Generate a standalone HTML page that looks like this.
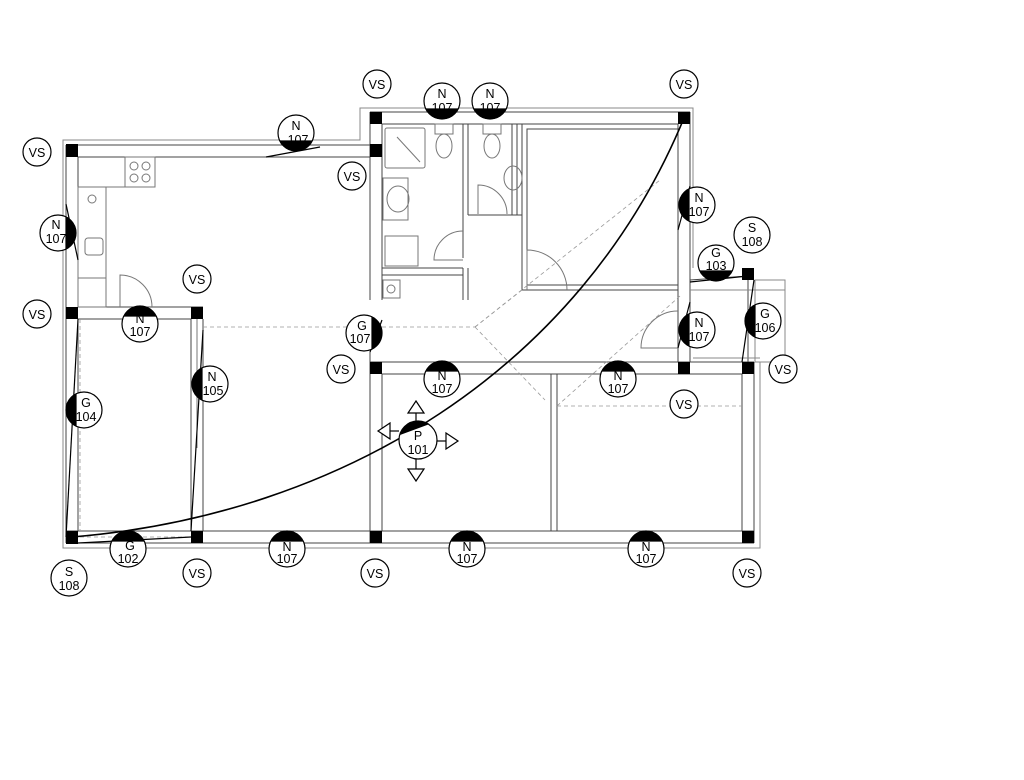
<!DOCTYPE html>
<html><head><meta charset="utf-8"><style>
html,body{margin:0;padding:0;background:#fff;}
svg{display:block;}
text{font-family:"Liberation Sans",sans-serif;font-size:12.5px;fill:#000;text-anchor:middle;}
</style></head><body>
<svg width="1024" height="780" viewBox="0 0 1024 780" xmlns="http://www.w3.org/2000/svg">
<g fill="none" stroke="#444" stroke-width="1">
<polyline points="63,312 63,140 360,140 360,108 693,108 693,268" stroke="#888"/>
<polyline points="63,312 63,548 760,548 760,362" stroke="#888"/>
<line x1="66" y1="543" x2="754" y2="543"/>
<line x1="66" y1="531" x2="754" y2="531"/>
<line x1="66" y1="145" x2="382" y2="145"/>
<line x1="78" y1="157" x2="370" y2="157"/>
<line x1="66" y1="145" x2="66" y2="543"/>
<line x1="78" y1="157" x2="78" y2="307"/>
<line x1="78" y1="319" x2="78" y2="531"/>
<line x1="78" y1="307" x2="203" y2="307"/>
<line x1="78" y1="319" x2="191" y2="319"/>
<line x1="191" y1="319" x2="191" y2="531"/>
<line x1="203" y1="319" x2="203" y2="531"/>
<line x1="370" y1="112" x2="690" y2="112"/>
<line x1="382" y1="124" x2="678" y2="124"/>
<line x1="370" y1="112" x2="370" y2="300"/>
<line x1="382" y1="124" x2="382" y2="300"/>
<line x1="370" y1="352" x2="370" y2="543"/>
<line x1="382" y1="374" x2="382" y2="531"/>
<line x1="678" y1="124" x2="678" y2="362"/>
<line x1="690" y1="112" x2="690" y2="362"/>
<line x1="370" y1="362" x2="754" y2="362"/>
<line x1="382" y1="374" x2="742" y2="374"/>
<line x1="742" y1="374" x2="742" y2="531"/>
<line x1="754" y1="362" x2="754" y2="543"/>
<line x1="551" y1="374" x2="551" y2="531"/>
<line x1="557" y1="374" x2="557" y2="531"/>
<polyline points="690,280 748,276 748,362"/>
<rect x="755" y="280" width="30" height="82" stroke="#888"/>
<line x1="690" y1="290" x2="785" y2="290" stroke="#888"/>
<line x1="693" y1="358" x2="760" y2="358" stroke="#888"/>
<line x1="463" y1="124" x2="463" y2="258"/>
<line x1="468" y1="124" x2="468" y2="215"/>
<line x1="463" y1="268" x2="463" y2="300"/>
<line x1="468" y1="268" x2="468" y2="300"/>
<line x1="468" y1="215" x2="522" y2="215"/>
<line x1="382" y1="268" x2="463" y2="268"/>
<line x1="382" y1="275" x2="463" y2="275"/>
<rect x="522" y="124" width="156" height="166"/>
<rect x="527" y="129" width="151" height="156"/>
<line x1="512" y1="124" x2="512" y2="215"/>
<line x1="517" y1="124" x2="517" y2="215"/>
<g stroke="#777">
<rect x="385" y="128" width="40" height="40" rx="2"/>
<line x1="397" y1="137" x2="420" y2="162"/>
<rect x="383" y="178" width="25" height="42"/>
<ellipse cx="398" cy="199" rx="11" ry="13"/>
<rect x="385" y="236" width="33" height="30"/>
<rect x="383" y="280" width="17" height="18"/>
<circle cx="391" cy="289" r="4"/>
<ellipse cx="444" cy="146" rx="8" ry="12"/><rect x="435" y="124" width="18" height="10"/>
<ellipse cx="492" cy="146" rx="8" ry="12"/><rect x="483" y="124" width="18" height="10"/>
<ellipse cx="513" cy="178" rx="9" ry="12"/>
<path d="M478,214 L478,185 A29,29 0 0 1 507,214"/>
<path d="M463,260 L434,260 A29,29 0 0 1 463,231"/>
<path d="M527,290 L527,250 A40,40 0 0 1 567,290"/>
<path d="M678,348 L641,348 A37,37 0 0 1 678,311"/>
<rect x="125" y="157" width="30" height="30"/>
<circle cx="134" cy="166" r="4"/><circle cx="146" cy="166" r="4"/>
<circle cx="134" cy="178" r="4"/><circle cx="146" cy="178" r="4"/>
<line x1="78" y1="187" x2="155" y2="187"/>
<rect x="78" y="187" width="28" height="120"/>
<circle cx="92" cy="199" r="4"/>
<rect x="85" y="238" width="18" height="17" rx="3"/>
<line x1="78" y1="278" x2="106" y2="278"/>
<path d="M120,307 L120,275 A32,32 0 0 1 152,307"/>
<line x1="197" y1="319" x2="197" y2="448"/>
</g>
</g>
<g fill="none" stroke="#999" stroke-width="0.8" stroke-dasharray="4,3">
<line x1="80" y1="319" x2="80" y2="531"/>
<line x1="203" y1="327" x2="370" y2="327"/>
<line x1="382" y1="327" x2="475" y2="327"/>
<polyline points="475,327 522,290"/>
<polyline points="475,327 545,400"/>
<line x1="475" y1="327" x2="660" y2="180"/>
<line x1="557" y1="406" x2="742" y2="406"/>
<line x1="557" y1="406" x2="680" y2="296"/>
<line x1="80" y1="537" x2="197" y2="537"/>
</g>
<g fill="#000">
<rect x="66" y="144" width="12" height="13"/>
<rect x="370" y="144" width="12" height="13"/>
<rect x="370" y="112" width="12" height="12"/>
<rect x="678" y="112" width="12" height="12"/>
<rect x="66" y="307" width="12" height="12"/>
<rect x="191" y="307" width="12" height="12"/>
<rect x="370" y="362" width="12" height="12"/>
<rect x="678" y="362" width="12" height="12"/>
<rect x="742" y="362" width="12" height="12"/>
<rect x="742" y="268" width="12" height="12"/>
<rect x="66" y="531" width="12" height="13"/>
<rect x="191" y="531" width="12" height="12"/>
<rect x="370" y="531" width="12" height="12"/>
<rect x="742" y="531" width="12" height="12"/>
</g>
<g fill="none" stroke="#000" stroke-width="1.2">
<path d="M72,537 C340,515 580,370 684,118" stroke-width="1.6"/>
<line x1="66" y1="537" x2="78" y2="319"/>
<line x1="191" y1="531" x2="203" y2="330"/>
<line x1="78" y1="543" x2="191" y2="537"/>
<line x1="266" y1="157" x2="320" y2="147"/>
<line x1="690" y1="282" x2="748" y2="276"/>
<line x1="742" y1="362" x2="754" y2="280"/>
<line x1="370" y1="352" x2="382" y2="320"/>
<line x1="678" y1="230" x2="690" y2="186"/>
<line x1="678" y1="348" x2="690" y2="302"/>
<line x1="66" y1="204" x2="78" y2="260"/>
</g>
<g stroke="#000" stroke-width="1.2">
<g fill="#fff">
<circle cx="377" cy="84" r="14"/><circle cx="684" cy="84" r="14"/><circle cx="37" cy="152" r="14"/>
<circle cx="352" cy="176" r="14"/><circle cx="197" cy="279" r="14"/><circle cx="37" cy="314" r="14"/>
<circle cx="341" cy="369" r="14"/><circle cx="684" cy="404" r="14"/><circle cx="783" cy="369" r="14"/>
<circle cx="197" cy="573" r="14"/><circle cx="375" cy="573" r="14"/><circle cx="747" cy="573" r="14"/>
<circle cx="296" cy="133" r="18"/><circle cx="442" cy="101" r="18"/><circle cx="490" cy="101" r="18"/>
<circle cx="58" cy="233" r="18"/><circle cx="140" cy="324" r="18"/><circle cx="697" cy="205" r="18"/>
<circle cx="697" cy="330" r="18"/><circle cx="442" cy="379" r="18"/><circle cx="618" cy="379" r="18"/>
<circle cx="287" cy="549" r="18"/><circle cx="467" cy="549" r="18"/><circle cx="646" cy="549" r="18"/>
<circle cx="364" cy="333" r="18"/><circle cx="210" cy="384" r="18"/><circle cx="84" cy="410" r="18"/>
<circle cx="128" cy="549" r="18"/><circle cx="69" cy="578" r="18"/><circle cx="752" cy="235" r="18"/>
<circle cx="716" cy="263" r="18"/><circle cx="763" cy="321" r="18"/><circle cx="418" cy="440" r="19"/>
</g>
<g fill="#000">
<path d="M280,141 A18,18 0 0 0 312,141 Z"/>
<path d="M426,109 A18,18 0 0 0 458,109 Z"/>
<path d="M474,109 A18,18 0 0 0 506,109 Z"/>
<path d="M66,217 A18,18 0 0 1 66,249 Z"/>
<path d="M124,316 A18,18 0 0 1 156,316 Z"/>
<path d="M689,189 A18,18 0 0 0 689,221 Z"/>
<path d="M689,314 A18,18 0 0 0 689,346 Z"/>
<path d="M426,371 A18,18 0 0 1 458,371 Z"/>
<path d="M602,371 A18,18 0 0 1 634,371 Z"/>
<path d="M271,541 A18,18 0 0 1 303,541 Z"/>
<path d="M451,541 A18,18 0 0 1 483,541 Z"/>
<path d="M630,541 A18,18 0 0 1 662,541 Z"/>
<path d="M372,317 A18,18 0 0 1 372,349 Z"/>
<path d="M202,368 A18,18 0 0 0 202,400 Z"/>
<path d="M76,394 A18,18 0 0 0 76,426 Z"/>
<path d="M112,541 A18,18 0 0 1 144,541 Z"/>
<path d="M700,271 A18,18 0 0 0 732,271 Z"/>
<path d="M755,305 A18,18 0 0 0 755,337 Z"/>
<path d="M401,434 A19,19 0 0 1 428,424 Z"/>
</g>
<g fill="#fff">
<polygon points="416,401 408,413 424,413"/><line x1="416" y1="413" x2="416" y2="421"/>
<polygon points="416,481 408,469 424,469"/><line x1="416" y1="469" x2="416" y2="459"/>
<polygon points="378,431 390,423 390,439"/><line x1="390" y1="431" x2="399" y2="431"/>
<polygon points="458,441 446,433 446,449"/><line x1="446" y1="441" x2="437" y2="441"/>
</g>
</g>
<g>
<text x="377" y="89">VS</text><text x="684" y="89">VS</text><text x="37" y="157">VS</text>
<text x="352" y="181">VS</text><text x="197" y="284">VS</text><text x="37" y="319">VS</text>
<text x="341" y="374">VS</text><text x="684" y="409">VS</text><text x="783" y="374">VS</text>
<text x="197" y="578">VS</text><text x="375" y="578">VS</text><text x="747" y="578">VS</text>
<text x="296" y="130">N</text><text x="298" y="144">107</text>
<text x="442" y="98">N</text><text x="442" y="112">107</text>
<text x="490" y="98">N</text><text x="490" y="112">107</text>
<text x="56" y="229">N</text><text x="56" y="243">107</text>
<text x="140" y="323">N</text><text x="140" y="336">107</text>
<text x="699" y="202">N</text><text x="699" y="216">107</text>
<text x="699" y="327">N</text><text x="699" y="341">107</text>
<text x="442" y="380">N</text><text x="442" y="393">107</text>
<text x="618" y="380">N</text><text x="618" y="393">107</text>
<text x="287" y="551">N</text><text x="287" y="563">107</text>
<text x="467" y="551">N</text><text x="467" y="563">107</text>
<text x="646" y="551">N</text><text x="646" y="563">107</text>
<text x="362" y="330">G</text><text x="360" y="343">107</text>
<text x="212" y="381">N</text><text x="213" y="395">105</text>
<text x="86" y="407">G</text><text x="86" y="421">104</text>
<text x="130" y="550">G</text><text x="128" y="563">102</text>
<text x="69" y="576">S</text><text x="69" y="590">108</text>
<text x="752" y="232">S</text><text x="752" y="246">108</text>
<text x="716" y="257">G</text><text x="716" y="270">103</text>
<text x="765" y="318">G</text><text x="765" y="332">106</text>
<text x="418" y="440">P</text><text x="418" y="454">101</text>
</g>
</svg>
</body></html>
